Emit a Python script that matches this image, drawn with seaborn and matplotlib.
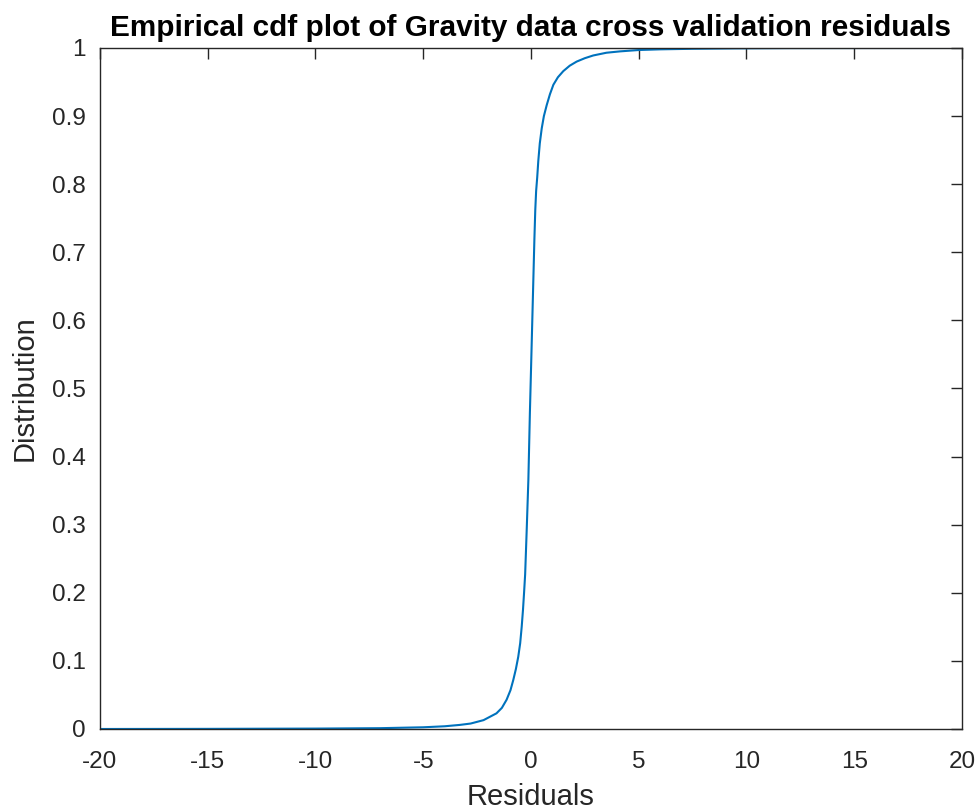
import matplotlib
matplotlib.use("Agg")
import matplotlib.pyplot as plt
import matplotlib.ticker as mticker
import seaborn as sns

# --- DATA ---
residuals = [-20, -15, -10, -7, -5, -4, -3.3, -2.8, -2.2, -1.6, -1.35, -1.13,
             -0.95, -0.82, -0.7, -0.59, -0.5, -0.43, -0.37, -0.32, -0.27, -0.2,
             -0.12, -0.05, 0.03, 0.11, 0.16, 0.2, 0.24, 0.29, 0.34, 0.41, 0.5,
             0.6, 0.73, 0.88, 1.04, 1.25, 1.5, 1.8, 2.12, 2.5, 2.89, 3.5, 4.13,
             5, 6, 7.5, 9.5, 12, 15, 20]
cdf_values = [0.0, 0.0002, 0.0006, 0.0012, 0.0025, 0.004, 0.006, 0.008, 0.013,
              0.023, 0.031, 0.043, 0.057, 0.072, 0.088, 0.106, 0.126, 0.150,
              0.175, 0.200, 0.227, 0.29, 0.366, 0.464, 0.561, 0.659, 0.72,
              0.762, 0.79, 0.81, 0.834, 0.86, 0.882, 0.900, 0.916, 0.932,
              0.946, 0.957, 0.966, 0.974, 0.980, 0.985, 0.989, 0.993, 0.995,
              0.997, 0.998, 0.9988, 0.9994, 0.9998, 0.9999, 1.0]
x_ticks = [-20, -15, -10, -5, 0, 5, 10, 15, 20]
y_ticks = [0, 0.1, 0.2, 0.3, 0.4, 0.5, 0.6, 0.7, 0.8, 0.9, 1]

sns.set_style("white")
plt.rcParams["font.family"] = ["Liberation Sans", "DejaVu Sans"]
plt.rcParams["axes.unicode_minus"] = False

fig = plt.figure(figsize=(9.79, 8.09), dpi=100)
ax = fig.add_axes([0.1021, 0.0989, 0.8805, 0.8418])

sns.lineplot(x=residuals, y=cdf_values, ax=ax, color="#0072BD",
             linewidth=1.5, sort=False)

ax.set_xlim(-20, 20)
ax.set_ylim(0, 1)
ax.set_xticks(x_ticks)
ax.set_yticks(y_ticks)
ax.yaxis.set_major_formatter(mticker.FormatStrFormatter("%g"))

ax.tick_params(direction="in", length=8, width=1, colors="#262626",
               labelsize=17.5, top=True, right=True)
ax.tick_params(axis="x", pad=15.5)
ax.tick_params(axis="y", pad=10)
for s in ax.spines.values():
    s.set_color("#262626")
    s.set_linewidth(1)

ax.set_xlabel("Residuals", fontsize=21, color="#262626", labelpad=7.5)
ax.set_ylabel("Distribution", fontsize=21, color="#262626", labelpad=10)
ax.set_title("Empirical cdf plot of Gravity data cross validation residuals",
             fontsize=21.4, fontweight="bold", color="black", pad=8.5)

fig.savefig("out.png", dpi=100)
